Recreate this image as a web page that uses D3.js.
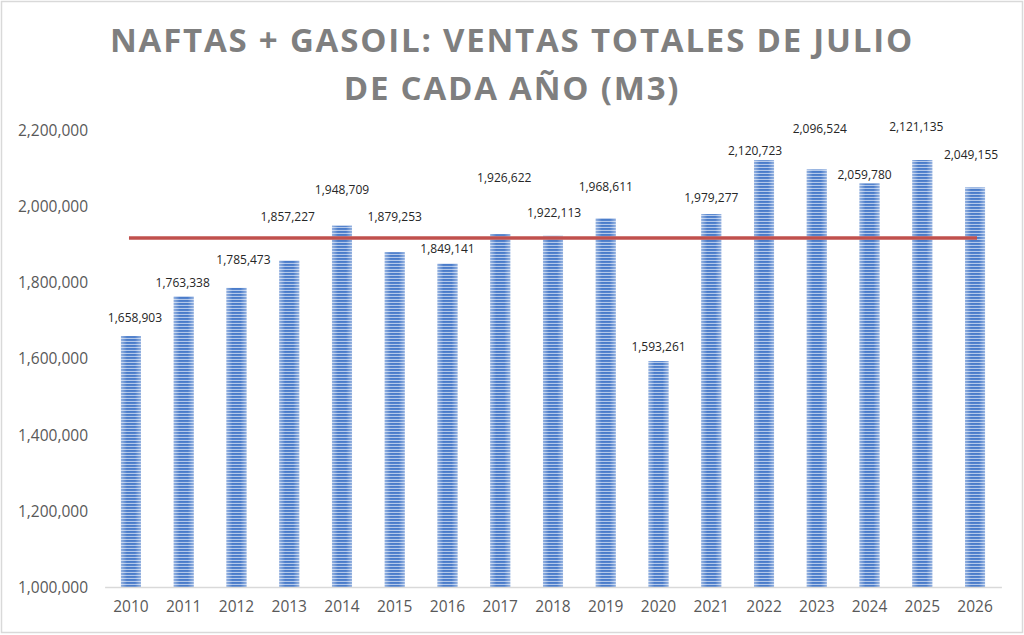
<!DOCTYPE html>
<html><head><meta charset="utf-8">
<script src="https://cdn.jsdelivr.net/npm/d3@7/dist/d3.min.js"></script>
<style>html,body{margin:0;padding:0;background:#fff}svg{display:block}</style>
</head><body>
<script>
const years = ["2010","2011","2012","2013","2014","2015","2016","2017","2018","2019","2020","2021","2022","2023","2024","2025","2026"];
const ventas = [1658903,1763338,1785473,1857227,1948709,1879253,1849141,1926622,1922113,1968611,1593261,1979277,2120723,2096524,2059780,2121135,2049155];
const yTicks = [1000000,1200000,1400000,1600000,1800000,2000000,2200000];
const titleLines = ["NAFTAS + GASOIL: VENTAS TOTALES DE JULIO","DE CADA AÑO (M3)"];
// manual nudges of the data labels (px), as placed in the original
const labelDx = [4,-1,7,-1.5,0,0,0,4,1,0,0,0,-9,3,-5,-6,-4];
const labelDy = [-18,-13,-28,-44,-36,-35,-15,-56,-23,-31,-14,-16,-9,-41,-9,-33,-33];

const W=1024,H=635;
const svg=d3.select("body").append("svg").attr("width",W).attr("height",H);
const defs=svg.append("defs");
const pat=defs.append("pattern").attr("id","stripes").attr("patternUnits","userSpaceOnUse").attr("width",10).attr("height",3);
pat.append("rect").attr("width",10).attr("height",3).attr("fill","#b3c8ea");
pat.append("rect").attr("width",10).attr("height",1.9).attr("fill","#4a7cca");
const grad=defs.append("linearGradient").attr("id","edge").attr("x1","0").attr("x2","1").attr("y1","0").attr("y2","0");
grad.append("stop").attr("offset","0").attr("stop-color","#fff").attr("stop-opacity",0.4);
grad.append("stop").attr("offset","0.3").attr("stop-color","#fff").attr("stop-opacity",0);
grad.append("stop").attr("offset","0.7").attr("stop-color","#fff").attr("stop-opacity",0);
grad.append("stop").attr("offset","1").attr("stop-color","#fff").attr("stop-opacity",0.4);

svg.append("rect").attr("x",1.5).attr("y",1.5).attr("width",W-3).attr("height",H-4).attr("fill","#fff").attr("stroke","#d9d9d9").attr("stroke-width",1.5);

const x=d3.scaleBand().domain(years).range([104.6,1001.4]).paddingInner(0.62).paddingOuter(0.31);
const y=d3.scaleLinear().domain([1000000,2200000]).range([587,130]);

const fmt=d3.format(",");
// title
svg.selectAll("text.title").data(titleLines).join("text").attr("class","title")
 .attr("x",512).attr("y",(d,i)=>52+i*48).attr("text-anchor","middle")
 .attr("font-family","'Open Sans'").attr("font-weight","bold").attr("font-size",33)
 .attr("letter-spacing",1.8).attr("fill","#7f7f7f").text(d=>d);

// y axis labels
const yAxis=d3.axisLeft(y).tickValues(yTicks).tickFormat(fmt).tickSize(0).tickPadding(0);
const ga=svg.append("g").attr("transform","translate(88,0)").call(yAxis);
ga.select(".domain").remove();
ga.selectAll("text").attr("font-family","'Open Sans'").attr("font-size",15.5).attr("fill","#595959").attr("dy","0.35em");

// bars
const bars=svg.append("g");
bars.selectAll("rect.bar").data(ventas).join("rect").attr("class","bar")
 .attr("x",(d,i)=>x(years[i])).attr("width",x.bandwidth())
 .attr("y",d=>y(d)).attr("height",d=>y(1000000)-y(d)).attr("fill","url(#stripes)");
bars.selectAll("rect.edge").data(ventas).join("rect").attr("class","edge")
 .attr("x",(d,i)=>x(years[i])).attr("width",x.bandwidth())
 .attr("y",d=>y(d)).attr("height",d=>y(1000000)-y(d)).attr("fill","url(#edge)");

// x axis
const xAxis=d3.axisBottom(x).tickSize(0).tickPadding(14);
const gx=svg.append("g").attr("transform","translate(0,587)").call(xAxis);
gx.select(".domain").attr("stroke","#d9d9d9").attr("stroke-width",1.5);
gx.selectAll("text").attr("font-family","'Open Sans'").attr("font-size",15.5).attr("fill","#595959");

// average line
const avg=d3.mean(ventas);
svg.append("line").attr("x1",x(years[0])+x.bandwidth()/2-2).attr("x2",x(years[years.length-1])+x.bandwidth()/2+2)
 .attr("y1",y(avg)).attr("y2",y(avg)).attr("stroke","#c0504d").attr("stroke-width",3.5);

// data labels
svg.selectAll("text.lbl").data(ventas).join("text").attr("class","lbl")
 .attr("x",(d,i)=>x(years[i])+x.bandwidth()/2+labelDx[i])
 .attr("y",(d,i)=>y(d)+labelDy[i]).attr("dy","0.35em").attr("text-anchor","middle")
 .attr("font-family","'Open Sans'").attr("font-size",12).attr("fill","#262626").text(d=>fmt(d));
</script>
</body></html>
